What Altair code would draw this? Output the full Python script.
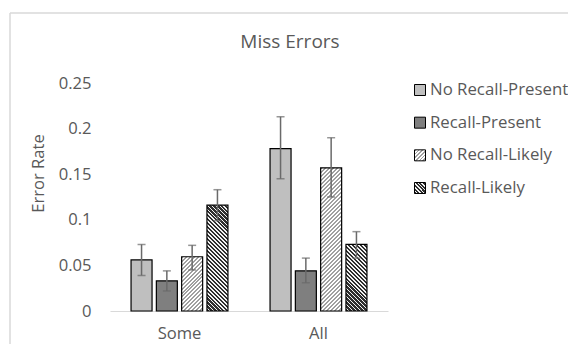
import altair as alt
import pandas as pd

# ---- data ----
title_text = "Miss Errors"
y_title = "Error Rate"
groups = ["Some", "All"]
series = ["No Recall-Present", "Recall-Present", "No Recall-Likely", "Recall-Likely"]
some_mean = [0.056, 0.033, 0.0595, 0.116]
some_lo = [0.039, 0.022, 0.045, 0.099]
some_hi = [0.073, 0.044, 0.072, 0.133]
all_mean = [0.178, 0.044, 0.157, 0.073]
all_lo = [0.145, 0.031, 0.125, 0.058]
all_hi = [0.213, 0.058, 0.190, 0.087]
y_ticks = [0, 0.05, 0.1, 0.15, 0.2, 0.25]

rows = []
for g, m, lo, hi in [("Some", some_mean, some_lo, some_hi), ("All", all_mean, all_lo, all_hi)]:
    for s, mv, lv, hv in zip(series, m, lo, hi):
        rows.append({"group": g, "series": s, "value": mv, "lo": lv, "hi": hv})
df = pd.DataFrame(rows)
leg_df = pd.DataFrame({"series": series})
title_df = pd.DataFrame({"t": [title_text]})
one = pd.DataFrame({"a": [0]})

# ---- styles ----
W, H = 278, 228
YMAX = 0.25
PI, PO = 0.17, 0.832
step = (W / 2) / (4 - PI + 2 * PO)
BW = step * (1 - PI)
TXT = "#595959"
FONT = "Open Sans"
FS = 16.6
solid = {"No Recall-Present": "#bfbfbf", "Recall-Present": "#7f7f7f"}
hatch_style = {
    "No Recall-Likely": ("/", "#a0a0a0", "#ffffff", 0.5),
    "Recall-Likely": ("\\", "#2e2e2e", "#f2f2f2", 0.55),
}


def hatch(w, h, s_name, period=4.0):
    direction, c_line, c_bg, duty = hatch_style[s_name]
    n = max(1, round((w + h) / period))
    stops = []
    for k in range(n):
        a, b, c = k / n, (k + duty) / n, (k + 1) / n
        stops += [{"offset": a, "color": c_line}, {"offset": b, "color": c_line},
                  {"offset": b, "color": c_bg}, {"offset": c, "color": c_bg}]
    sc = (w + h) / (w * w + h * h)
    if direction == "/":
        x1, y1, x2, y2 = 0, 0, sc * w, sc * h
    else:
        x1, y1, x2, y2 = 0, 1, sc * w, 1 - sc * h
    return {"gradient": "linear", "x1": x1, "y1": y1, "x2": x2, "y2": y2, "stops": stops}


# bar fills
fill_chain = None
for r in rows:
    if r["series"] in hatch_style:
        g = hatch(BW, r["value"] / YMAX * H, r["series"])
        cond = [alt.datum.series == r["series"], alt.datum.group == r["group"]]
        fill_chain = (alt.when(*cond) if fill_chain is None else fill_chain.when(*cond)).then(alt.value(g))
fill_chain = fill_chain.when(alt.datum.series == series[1]).then(alt.value(solid[series[1]]))
bar_fill = fill_chain.otherwise(alt.value(solid[series[0]]))

# legend fills
lf = None
for s in series:
    v = hatch(11, 11, s, period=3.7) if s in hatch_style else solid[s]
    lf = (alt.when(alt.datum.series == s) if lf is None else lf.when(alt.datum.series == s)).then(alt.value(v))
leg_fill = lf.otherwise(alt.value("#ffffff"))

x_enc = alt.X("group:N", sort=groups,
              scale=alt.Scale(domain=groups, paddingInner=0, paddingOuter=0),
              axis=alt.Axis(title=None, labelAngle=0, ticks=False, domainColor="#d9d9d9",
                            domainWidth=1.2, labelFontSize=FS, labelColor=TXT, labelPadding=14))
xo_enc = alt.XOffset("series:N", sort=series,
                     scale=alt.Scale(domain=series, paddingInner=PI, paddingOuter=PO))
yscale = alt.Scale(domain=[0, YMAX], nice=False, zero=True)

bars = alt.Chart(df).mark_bar(stroke="black", strokeWidth=1.2).encode(
    x=x_enc, xOffset=xo_enc,
    y=alt.Y("value:Q", scale=yscale,
            axis=alt.Axis(values=y_ticks, format=".2~f", domain=False, ticks=False, grid=False,
                          labelFontSize=FS, labelColor=TXT, labelPadding=19,
                          title=y_title, titleFontSize=FS, titleColor=TXT, titleFontWeight="normal",
                          titleX=-72, titleY=90, titleAlign="center", titleBaseline="middle",
                          titleAngle=-90)),
    fill=bar_fill,
)

err = alt.Chart(df).mark_rule(color="#6a6a6a", strokeWidth=1.5).encode(
    x=x_enc, xOffset=xo_enc,
    y=alt.Y("lo:Q", scale=yscale, axis=None), y2="hi:Q",
)
cap_lo = alt.Chart(df).mark_tick(color="#6a6a6a", size=8, thickness=1.5).encode(
    x=x_enc, xOffset=xo_enc, y=alt.Y("lo:Q", scale=yscale, axis=None))
cap_hi = alt.Chart(df).mark_tick(color="#6a6a6a", size=8, thickness=1.5).encode(
    x=x_enc, xOffset=xo_enc, y=alt.Y("hi:Q", scale=yscale, axis=None))

leg_y = alt.Y("series:N", sort=series,
              scale=alt.Scale(type="point", domain=series, range=[7, 105], padding=0), axis=None)
leg_sq = alt.Chart(leg_df).mark_square(size=121, stroke="black", strokeWidth=1, opacity=1).encode(
    x=alt.value(310), y=leg_y, fill=leg_fill)
leg_tx = alt.Chart(leg_df).mark_text(align="left", baseline="middle", fontSize=16.8, color=TXT).encode(
    x=alt.value(320), y=leg_y, text="series:N")

title = alt.Chart(title_df).mark_text(align="center", baseline="middle", fontSize=19, color=TXT).encode(
    x=alt.value(180), y=alt.value(-41), text="t:N")

frame_l = alt.Chart(one).mark_rule(color="#d9d9d9", strokeWidth=1.5).encode(
    x=alt.value(-100), y=alt.value(-70), y2=alt.value(270))
frame_t = alt.Chart(one).mark_rule(color="#d9d9d9", strokeWidth=1.5).encode(
    x=alt.value(-100), x2=alt.value(480), y=alt.value(-70))

chart = alt.layer(frame_l, frame_t, bars, err, cap_lo, cap_hi, leg_sq, leg_tx, title).resolve_scale(
    y="independent"
).properties(
    width=W, height=H,
    autosize=alt.AutoSizeParams(type="none"),
    padding={"left": 102, "top": 75, "right": 180, "bottom": 33},
).configure(font=FONT).configure_view(stroke=None)

chart.save("out.html", embed_options={"renderer": "svg", "actions": False})
